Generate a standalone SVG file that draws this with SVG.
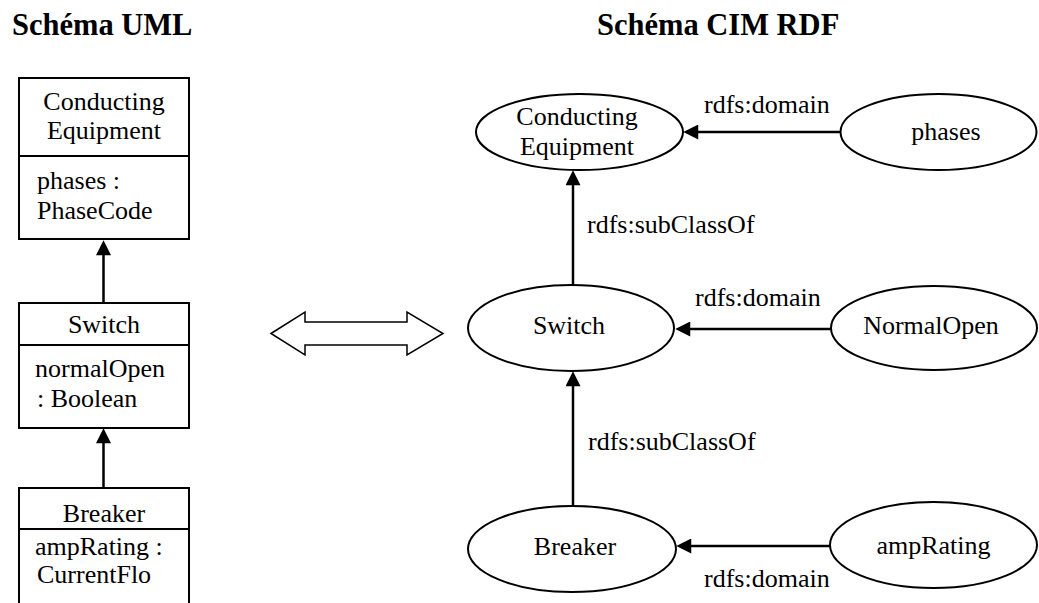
<svg xmlns="http://www.w3.org/2000/svg" width="1039" height="603" viewBox="0 0 1039 603">
<style>
text{font-family:"Liberation Serif","Times New Roman",serif;font-size:26px;fill:#000}
.title{font-size:30.5px;font-weight:bold}
.c{text-anchor:middle}
.box{fill:#fff;stroke:#000;stroke-width:2}
.div{stroke:#000;stroke-width:2}
.ell{fill:#fff;stroke:#000;stroke-width:2}
.con{stroke:#000;stroke-width:2.5;fill:none;marker-end:url(#ah)}
</style>
<defs>
<marker id="ah" viewBox="0 0 16 16" refX="12" refY="8" markerWidth="16" markerHeight="15" markerUnits="userSpaceOnUse" orient="auto">
<path d="M0,0 L16,8 L0,16 z" fill="#000"/>
</marker>
</defs>
<rect width="1039" height="603" fill="#fff"/>
<text class="title" x="12" y="35">Schéma UML</text>
<text class="title" x="597" y="35">Schéma CIM RDF</text>

<g id="uml-conducting">
<rect class="box" x="19" y="78" width="170" height="161"/>
<line class="div" x1="19" y1="156" x2="189" y2="156"/>
<text class="c" x="104" y="110">Conducting</text>
<text class="c" x="104" y="139">Equipment</text>
<text x="37" y="189">phases :</text>
<text x="37" y="219">PhaseCode</text>
</g>
<g id="uml-switch">
<rect class="box" x="19" y="303" width="170" height="125"/>
<line class="div" x1="19" y1="345" x2="189" y2="345"/>
<text class="c" x="104" y="333">Switch</text>
<text x="35" y="377">normalOpen</text>
<text x="37" y="407">: Boolean</text>
</g>
<g id="uml-breaker">
<rect class="box" x="19" y="488" width="170" height="130"/>
<line class="div" x1="19" y1="529" x2="189" y2="529"/>
<text class="c" x="104" y="522">Breaker</text>
<text x="35" y="555">ampRating :</text>
<text x="37" y="583">CurrentFlo</text>
</g>

<g id="double-arrow">
<polygon points="271,333.5 305,312 305,322 407,322 407,312 443,333.5 407,355 407,345 305,345 305,355" fill="#fff" stroke="#000" stroke-width="1.5" stroke-linejoin="miter"/>
</g>

<g id="rdf-conducting">
<ellipse class="ell" cx="579.5" cy="132" rx="103.5" ry="38"/>
<text class="c" x="577" y="125">Conducting</text>
<text class="c" x="577" y="155">Equipment</text>
</g>
<g id="rdf-phases">
<ellipse class="ell" cx="938.5" cy="132" rx="98" ry="38"/>
<text class="c" x="946" y="140">phases</text>
</g>
<g id="rdf-switch">
<ellipse class="ell" cx="571" cy="328" rx="103" ry="43"/>
<text class="c" x="569" y="334">Switch</text>
</g>
<g id="rdf-normalopen">
<ellipse class="ell" cx="934" cy="328" rx="103" ry="42"/>
<text class="c" x="931" y="334">NormalOpen</text>
</g>
<g id="rdf-breaker">
<ellipse class="ell" cx="572" cy="549" rx="104" ry="43"/>
<text class="c" x="575" y="555">Breaker</text>
</g>
<g id="rdf-amprating">
<ellipse class="ell" cx="933.5" cy="545" rx="103.5" ry="43"/>
<text class="c" x="933.5" y="554">ampRating</text>
</g>

<g id="connectors">
<line class="con" x1="103.5" y1="303" x2="103.5" y2="244"/>
<line class="con" x1="103.5" y1="488" x2="103.5" y2="432"/>
<line class="con" x1="840" y1="132" x2="687" y2="132"/>
<line class="con" x1="573" y1="285" x2="573" y2="174"/>
<line class="con" x1="831" y1="329" x2="679" y2="329"/>
<line class="con" x1="573" y1="506" x2="573" y2="375"/>
<line class="con" x1="830" y1="546" x2="680" y2="546"/>
<text x="704" y="113">rdfs:domain</text>
<text x="587" y="233">rdfs:subClassOf</text>
<text x="695" y="306">rdfs:domain</text>
<text x="588" y="450">rdfs:subClassOf</text>
<text x="704" y="587">rdfs:domain</text>
</g>
</svg>
